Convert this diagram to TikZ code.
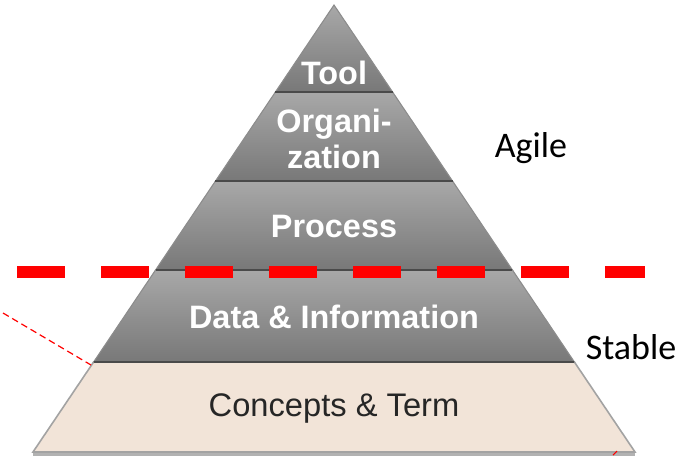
\documentclass[tikz,border=0pt]{standalone}
\usepackage{fontspec}
\setmainfont{Liberation Sans}
\newfontfamily\calib{Carlito}
\usetikzlibrary{calc}
\definecolor{gtop}{HTML}{A8A8A8}
\definecolor{gbot}{HTML}{787878}
\definecolor{basefill}{HTML}{F2E4D8}
\definecolor{edgegray}{HTML}{8C8C8C}
\definecolor{sepgray}{HTML}{4A4A4A}
\tikzset{
  layer/.style={top color=gtop, bottom color=gbot, draw=edgegray, line width=0.8pt},
  baselayer/.style={fill=basefill, draw=edgegray!80, line width=1.2pt},
  sep/.style={draw=sepgray, line width=1.5pt},
  lbl/.style={text=white, font=\fontsize{24.3}{27}\selectfont\bfseries, align=center, inner sep=0pt},
  baselbl/.style={text=black!85, font=\fontsize{24.5}{27}\selectfont, inner sep=0pt},
  side/.style={text=black, font=\calib\fontsize{27}{30}\selectfont, inner sep=0pt},
  bigdash/.style={draw=red, line width=9pt, dash pattern=on 36pt off 27pt},
  thindash/.style={draw=red, line width=0.9pt, dash pattern=on 5pt off 3pt}
}
\begin{document}
\begin{tikzpicture}[x=0.75pt, y=-0.75pt]
\useasboundingbox (0,0) rectangle (684,455);
\coordinate (A) at (334,5);
\coordinate (BL) at (33,452);
\coordinate (BR) at (635,452);
% boundary points
\foreach \n/\t in {1/0.1946, 2/0.3937, 3/0.5928, 4/0.7987}{
  \coordinate (L\n) at ($(A)!\t!(BL)$);
  \coordinate (R\n) at ($(A)!\t!(BR)$);
}
% base shadow
\fill[black!30] ($(BL)+(0,1)$) -- ($(BR)+(0,1)$) -- ($(BR)+(0,4)$) -- ($(BL)+(0,4)$) -- cycle;
% layers
\path[baselayer] (L4) -- (R4) -- (BR) -- (BL) -- cycle;
\path[layer] (L3) -- (R3) -- (R4) -- (L4) -- cycle;
\path[layer] (L2) -- (R2) -- (R3) -- (L3) -- cycle;
\path[layer] (L1) -- (R1) -- (R2) -- (L2) -- cycle;
\path[layer] (A) -- (R1) -- (L1) -- cycle;
% separators
\draw[sep] (L1) -- (R1);
\draw[sep] (L2) -- (R2);
\draw[sep] (L3) -- (R3);
\draw[sep] (L4) -- (R4);
% labels
\node[lbl] (tool) at (334,73) {Tool};
\node[lbl] (org) at (334,139) {Organi-\\zation};
\node[lbl] (proc) at (334,227) {Process};
\node[lbl] (data) at (334,317) {Data \& Information};
\node[baselbl] (conc) at (334,408) {Concepts \& Term};
\node[side] (agile) at (531,148) {Agile};
\node[side] (stable) at (631,347) {Stable};
% dashed lines
\coordinate (d1) at (17,272);
\coordinate (d2) at (645,272);
\draw[bigdash] (d1) -- (d2);
\coordinate (t1) at (3,313);
\coordinate (t2) at (91,365);
\draw[thindash] (t1) -- (t2);
\coordinate (m1) at (613,455);
\coordinate (m2) at (617,451);
\draw[red, line width=0.8pt] (m1) -- (m2);
\end{tikzpicture}
\end{document}
